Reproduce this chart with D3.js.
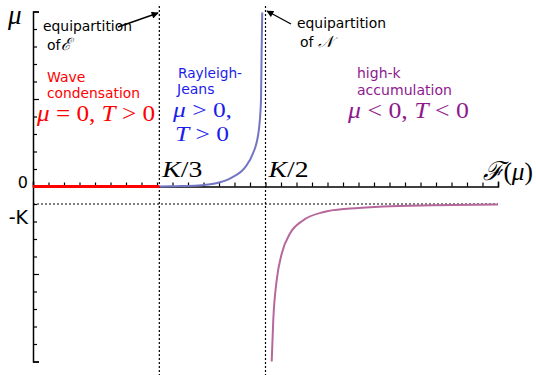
<!DOCTYPE html>
<html>
<head>
<meta charset="utf-8">
<script src="https://cdn.jsdelivr.net/npm/d3@7"></script>
<style>
  body { margin: 0; background: #fff; }
  svg { display: block; }
  .sans { font-family: "DejaVu Sans", sans-serif; }
  .math { font-family: "Liberation Serif", "DejaVu Serif", serif; }
</style>
</head>
<body>
<div id="chart"></div>
<script>
// Values in axis units: x runs over 30 tick steps, mu over -10..10 tick steps (K = 1 step)
const kThird = 8.15;
const kHalf = 15;
const minusK = -1;

// Wave condensation branch (mu = 0)
const condX = [0, kThird];
const condMu = [0, 0];

// Rayleigh-Jeans branch (mu > 0, diverging at K/2)
const rjX = [8.15, 9.16, 10.65, 11.74, 12.82, 13.68, 14.19, 14.54, 14.71, 14.75, 14.79];
const rjMu = [0, 0.02, 0.06, 0.17, 0.51, 1.09, 1.89, 3.03, 4.91, 7.77, 9.95];

// High-k accumulation branch (mu < 0, tends to -K)
const hkX = [15.4, 15.5, 15.72, 16.05, 16.58, 17.42, 18.71, 20.45, 22.58, 25.8, 30];
const hkMu = [-10, -7.66, -5.37, -3.83, -2.69, -1.94, -1.47, -1.26, -1.14, -1.07, -1.03];

const yLabels = ['0', '-K'];
const yLabelValues = [0, minusK];
const xMarkLabels = ['K/3', 'K/2'];
const xMarkValues = [kThird, kHalf];

const width = 536, height = 375;

const svg = d3.select('#chart').append('svg')
    .attr('width', width)
    .attr('height', height);

svg.append('rect').attr('width', width).attr('height', height).attr('fill', '#fff');

const x = d3.scaleLinear([0, 30], [33, 498]);
const y = d3.scaleLinear([-10, 10], [361.5, 11.5]);

// Dotted guides
svg.selectAll('line.vguide')
    .data(xMarkValues)
    .join('line')
    .classed('vguide', true)
    .attr('x1', d => x(d)).attr('x2', d => x(d))
    .attr('y1', 6).attr('y2', height)
    .attr('stroke', '#000')
    .attr('stroke-width', 1.2)
    .attr('stroke-dasharray', '2,2');

svg.append('line')
    .attr('x1', x(0)).attr('x2', x(30))
    .attr('y1', y(minusK)).attr('y2', y(minusK))
    .attr('stroke', '#000')
    .attr('stroke-width', 1.2)
    .attr('stroke-dasharray', '2,2');

// Axes
const axisY = d3.axisRight(y)
    .tickValues(d3.range(-10, 11))
    .tickSize(4)
    .tickSizeOuter(6)
    .tickFormat('');
const axisX = d3.axisTop(x)
    .tickValues(d3.range(0, 31))
    .tickSize(4)
    .tickSizeOuter(5)
    .tickFormat('');

const gY = svg.append('g')
    .attr('transform', `translate(${x(0)},0)`)
    .call(axisY);
gY.selectAll('.tick line').filter(d => d % 5 === 0 && d !== 0).attr('x2', 6);

const gX = svg.append('g')
    .attr('transform', `translate(0,${y(0)})`)
    .call(axisX);

[gX, gY].forEach(g => {
    g.select('.domain').attr('stroke', '#000').attr('stroke-width', 1.5);
    g.selectAll('.tick line').attr('stroke', '#000').attr('stroke-width', 1.2);
});

// Curves
const line = d3.line()
    .x(d => x(d[0]))
    .y(d => y(d[1]))
    .curve(d3.curveMonotoneX);

svg.append('path')
    .datum(d3.zip(rjX, rjMu))
    .attr('d', line)
    .attr('fill', 'none')
    .attr('stroke', '#7276c4')
    .attr('stroke-width', 2);

svg.append('path')
    .datum(d3.zip(hkX, hkMu))
    .attr('d', line)
    .attr('fill', 'none')
    .attr('stroke', '#b6679c')
    .attr('stroke-width', 2);

svg.append('path')
    .datum(d3.zip(condX, condMu))
    .attr('d', d3.line().x(d => x(d[0])).y(d => y(d[1])))
    .attr('fill', 'none')
    .attr('stroke', '#ff0000')
    .attr('stroke-width', 3);

// Math text helper: parts are [string, italic]
function mathText(px, py, parts, size, color, len) {
    const t = svg.append('text')
        .classed('math', true)
        .attr('x', px).attr('y', py)
        .attr('font-size', size)
        .attr('fill', color);
    parts.forEach(p => {
        t.append('tspan')
            .attr('font-style', p[1] ? 'italic' : 'normal')
            .text(p[0]);
    });
    if (len) t.attr('textLength', len).attr('lengthAdjust', 'spacingAndGlyphs');
    return t;
}

function sansText(px, py, str, size, color, len) {
    const t = svg.append('text')
        .classed('sans', true)
        .attr('x', px).attr('y', py)
        .attr('font-size', size)
        .attr('fill', color)
        .text(str);
    if (len) t.attr('textLength', len).attr('lengthAdjust', 'spacingAndGlyphs');
    return t;
}

// Axis labels
mathText(8, 24, [['μ', true]], 27, '#000');
mathText(483, 180, [['ℱ', true], ['(', false], ['μ', true], [')', false]], 26, '#000', 50);

yLabels.forEach((lab, i) => {
    const v = yLabelValues[i];
    sansText(28, y(v) + (v === 0 ? 1 : 20), lab, v === 0 ? 16 : 19, '#000').attr('text-anchor', 'end');
});

xMarkLabels.forEach((lab, i) => {
    mathText(x(xMarkValues[i]) + 3, 177, [['K', true], ['/', false], [lab.slice(2), false]], 23, '#000', 40);
});

// Region annotations
const red = '#ff0000', blue = '#1c1ced', purple = '#8e1a8e';

sansText(47, 82, 'Wave', 14, red);
sansText(47, 98, 'condensation', 14, red, 93);
mathText(37, 121, [['μ', true], [' = 0, ', false], ['T', true], [' > 0', false]], 24, red, 118);

sansText(178, 78, 'Rayleigh-', 14, blue, 64);
sansText(177, 94, 'Jeans', 14, blue);
mathText(173, 117, [['μ', true], [' > 0,', false]], 21, blue, 59);
mathText(175, 140.5, [['T', true], [' > 0', false]], 21, blue, 54);

sansText(357, 78, 'high-k', 14, purple);
sansText(357, 95, 'accumulation', 14, purple, 95);
mathText(348, 118, [['μ', true], [' < 0, ', false], ['T', true], [' < 0', false]], 23, purple, 121);

// Equipartition notes with arrows
const defs = svg.append('defs');
defs.append('marker')
    .attr('id', 'head')
    .attr('viewBox', '0 0 10 10')
    .attr('refX', 9).attr('refY', 5)
    .attr('markerWidth', 9).attr('markerHeight', 7)
    .attr('markerUnits', 'userSpaceOnUse')
    .attr('orient', 'auto')
    .append('path')
    .attr('d', 'M0,0 L10,5 L0,10 z')
    .attr('fill', '#000');

sansText(43, 31, 'equipartition', 14, '#000', 89);
const ofE = sansText(47, 50, 'of', 14, '#000');
ofE.append('tspan').attr('font-family', '"Liberation Serif", "DejaVu Serif", serif')
    .attr('font-style', 'italic').attr('font-size', 17).text('ℰ');

sansText(297, 28, 'equipartition', 14, '#000', 89);
const ofN = sansText(300, 47, 'of ', 14, '#000');
ofN.append('tspan').attr('font-family', '"Liberation Serif", "DejaVu Serif", serif')
    .attr('font-style', 'italic').attr('font-size', 16).text('𝒩');

svg.append('line')
    .attr('x1', 118).attr('y1', 27).attr('x2', 158).attr('y2', 13)
    .attr('stroke', '#000').attr('stroke-width', 1.4)
    .attr('marker-end', 'url(#head)');

svg.append('line')
    .attr('x1', 291).attr('y1', 24).attr('x2', 267).attr('y2', 11)
    .attr('stroke', '#000').attr('stroke-width', 1.4)
    .attr('marker-end', 'url(#head)');
</script>
</body>
</html>
